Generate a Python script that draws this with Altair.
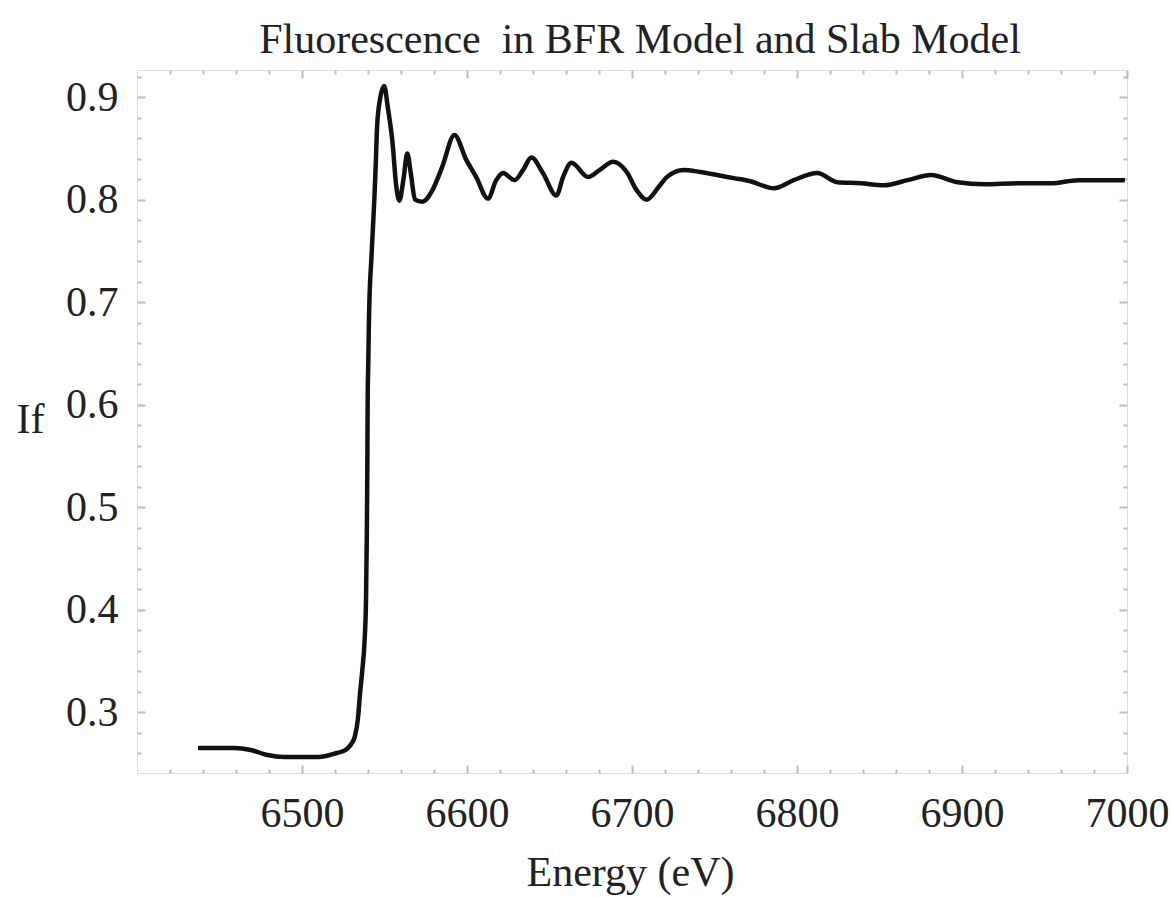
import altair as alt
import pandas as pd

# Fluorescence yield If versus photon energy (eV)
energy = [6437, 6448, 6459, 6469, 6479, 6489, 6499, 6510, 6521, 6526.5,
          6529, 6532, 6534, 6535, 6536.5, 6538, 6538.8, 6539.3, 6539.6, 6539.8,
          6540.2, 6540.5, 6541, 6542, 6543, 6544, 6544.8, 6545.5, 6547.5, 6549.8,
          6552, 6554.9, 6557, 6559, 6561.5, 6563.8, 6566, 6568.5, 6573, 6579,
          6585, 6592.4, 6599.5, 6605.6, 6612.7, 6617.7, 6621.8, 6628.9, 6634, 6639,
          6646, 6654.2, 6658.2, 6663.3, 6673.4, 6680.5, 6688.6, 6696.8, 6702.9, 6708.9,
          6716, 6721.1, 6731.2, 6741.3, 6751.5, 6761.6, 6771.7, 6785.9, 6798, 6812.3,
          6824.4, 6838.6, 6852.8, 6867, 6881.2, 6897.4, 6913.6, 6933.9, 6954.1, 6970.3,
          6998.7]
intensity = [0.265, 0.265, 0.265, 0.263, 0.258, 0.256, 0.256, 0.256, 0.260, 0.263,
             0.267, 0.276, 0.295, 0.315, 0.340, 0.372, 0.410, 0.475, 0.540, 0.604,
             0.643, 0.676, 0.709, 0.741, 0.773, 0.806, 0.839, 0.871, 0.900, 0.911,
             0.890, 0.855, 0.815, 0.799, 0.820, 0.845, 0.825, 0.800, 0.798, 0.809,
             0.832, 0.863, 0.839, 0.822, 0.801, 0.819, 0.826, 0.819, 0.829, 0.841,
             0.826, 0.804, 0.822, 0.836, 0.822, 0.829, 0.837, 0.827, 0.809, 0.800,
             0.812, 0.822, 0.829, 0.827, 0.824, 0.821, 0.818, 0.811, 0.819, 0.826,
             0.817, 0.816, 0.814, 0.819, 0.824, 0.817, 0.815, 0.816, 0.816, 0.819,
             0.819]

x_major = [6500, 6600, 6700, 6800, 6900, 7000]
x_minor = [6420, 6440, 6460, 6480, 6520, 6540, 6560, 6580, 6620, 6640, 6660, 6680,
           6720, 6740, 6760, 6780, 6820, 6840, 6860, 6880, 6920, 6940, 6960, 6980]
y_major = [0.3, 0.4, 0.5, 0.6, 0.7, 0.8, 0.9]
y_minor = [0.26, 0.28, 0.32, 0.34, 0.36, 0.38, 0.42, 0.44, 0.46, 0.48, 0.52, 0.54,
           0.56, 0.58, 0.62, 0.64, 0.66, 0.68, 0.72, 0.74, 0.76, 0.78, 0.82, 0.84,
           0.86, 0.88, 0.92]

df = pd.DataFrame({"E": energy, "If": intensity})

FONT = "Liberation Serif"
TICK_GRAY = "#bdbdbd"

x_scale = alt.Scale(domain=[6400, 7000], nice=False, zero=False)
y_scale = alt.Scale(domain=[0.2405, 0.9265], nice=False, zero=False)

base = alt.Chart(df)

curve = base.mark_line(color="#111111", strokeWidth=4.5, interpolate="monotone").encode(
    x=alt.X("E:Q", scale=x_scale,
            axis=alt.Axis(values=x_major, format="d", ticks=False, tickSize=0, domain=False,
                          grid=False, labelPadding=20, labelFlush=False, labelFont=FONT,
                          labelFontSize=42, labelColor="#222222",
                          title="Energy (eV)", titleFont=FONT, titleFontSize=42,
                          titleFontWeight="normal", titleColor="#222222",
                          titleX=493, titleY=112, titleAlign="center",
                          titleBaseline="alphabetic")),
    y=alt.Y("If:Q", scale=y_scale,
            axis=alt.Axis(values=y_major, format=".1f", ticks=False, tickSize=0, domain=False,
                          grid=False, labelPadding=19, labelFont=FONT, labelFontSize=42,
                          labelColor="#222222",
                          title="If", titleFont=FONT, titleFontSize=42,
                          titleFontWeight="normal", titleColor="#222222", titleAngle=0,
                          titleX=-107, titleY=349, titleAlign="center",
                          titleBaseline="middle")),
)


def frame_ticks(x_orient, y_orient, xvals, yvals, size):
    """Invisible layer whose axes draw inward ticks on the frame."""
    def ax(orient, vals):
        return alt.Axis(orient=orient, values=vals, labels=False, domain=False, grid=False,
                        ticks=True, tickSize=size, offset=-size, tickColor=TICK_GRAY,
                        tickWidth=2, title="")
    return base.mark_line(opacity=0).encode(
        x=alt.X("E:Q", scale=x_scale, axis=ax(x_orient, xvals)),
        y=alt.Y("If:Q", scale=y_scale, axis=ax(y_orient, yvals)),
    )


chart = alt.layer(
    curve,
    frame_ticks("bottom", "left", x_major, y_major, 8),
    frame_ticks("top", "right", x_major, y_major, 8),
    frame_ticks("bottom", "left", x_minor, y_minor, 4),
    frame_ticks("top", "right", x_minor, y_minor, 4),
).resolve_axis(
    x="independent", y="independent"
).properties(
    width=990,
    height=703,
    title=alt.Title("Fluorescence\u00a0 in BFR Model and Slab Model", font=FONT,
                    fontSize=42, fontWeight="normal", color="#222222",
                    anchor="middle", frame="group", baseline="alphabetic",
                    offset=18, dx=8, dy=44),
    padding={"left": 137, "top": 70, "right": 44, "bottom": 125},
    autosize=alt.AutoSizeParams(type="none"),
).configure_view(
    stroke="#d6d6d6", strokeWidth=3
).configure(background="white")

chart.save("out.html", embed_options={"renderer": "svg", "actions": False})
